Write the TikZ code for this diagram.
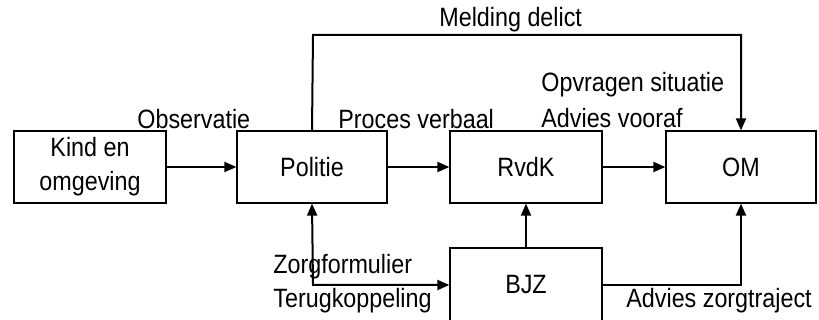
\documentclass[tikz,border=0pt]{standalone}
\usepackage{fontspec}
\setmainfont[FakeStretch=0.88]{Liberation Sans}
\usetikzlibrary{arrows.meta}
\tikzset{
  box/.style={draw, line width=0.6pt, minimum width=76pt, minimum height=36pt, inner sep=0pt, align=center},
  flow/.style={line width=1pt, -{Triangle[length=6pt,width=5pt]}},
  lbl/.style={inner sep=0pt, anchor=base west}
}
\begin{document}
\begin{tikzpicture}[x=0.5pt, y=-0.5pt, font=\fontsize{13.25}{17}\selectfont]
  \useasboundingbox (0,0) rectangle (819,320);
  \draw
    (90,167) node[box] (kind) {Kind en\\omgeving}
    (312,167) node[box, minimum width=75pt] (politie) {Politie}
    (526,167) node[box] (rvdk) {RvdK}
    (741,167) node[box, minimum width=75pt] (om) {OM}
    (526,285) node[box, minimum height=37pt] (bjz) {BJZ};
  \coordinate (md1) at (313,35);
  \coordinate (md2) at (741,35);
  \coordinate (zf) at (313,285);
  \coordinate (az) at (741,285);
  \begin{scope}
    \draw[flow] (kind) -- (politie);
    \draw[flow] (politie) -- (rvdk);
    \draw[flow] (rvdk) -- (om);
    \draw[flow] (politie.north) -- (md1) -- (md2) -- (om.north);
    \draw[flow, {Triangle[length=6pt,width=5pt]}-{Triangle[length=6pt,width=5pt]}] (politie.south) -- (zf) -- (bjz.west);
    \draw[flow] (bjz) -- (rvdk);
    \draw[flow] (bjz.east) -- (az) -- (om.south);
  \end{scope}
  \node[lbl] (obs) at (137,129) {Observatie};
  \node[lbl] (pv) at (338,129) {Proces verbaal};
  \node[lbl] (mel) at (439,27) {Melding delict};
  \node[lbl] (ops) at (541,92) {Opvragen situatie};
  \node[lbl] (adv) at (541,128) {Advies vooraf};
  \node[lbl] (zfl) at (273,273) {Zorgformulier};
  \node[lbl] (tk) at (273,307) {Terugkoppeling};
  \node[lbl] (azt) at (626,307) {Advies zorgtraject};
\end{tikzpicture}
\end{document}
